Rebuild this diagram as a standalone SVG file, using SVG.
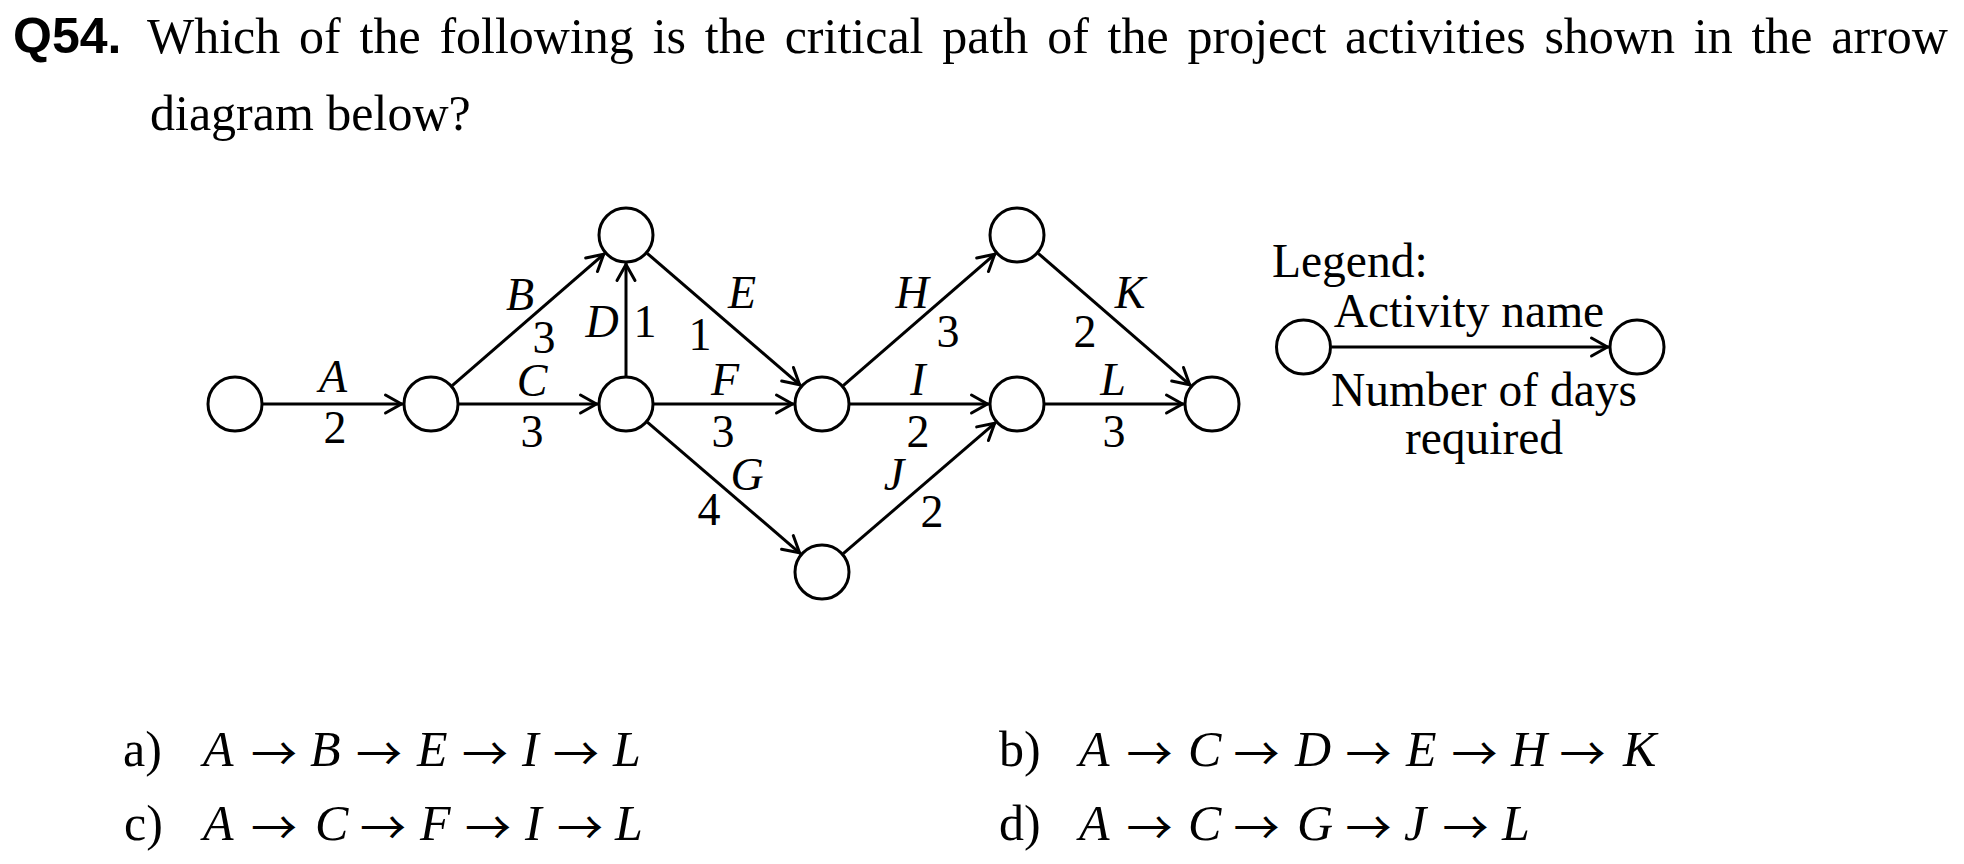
<svg xmlns="http://www.w3.org/2000/svg" width="1964" height="864" viewBox="0 0 1964 864">
<style>
.t{font-family:"Liberation Serif","Times New Roman",serif;fill:#000}
.it{font-style:italic}
.lbl{font-size:46px;text-anchor:middle}
.nd{fill:#fff;stroke:#000;stroke-width:3}
.ed{stroke:#000;stroke-width:3;fill:none;marker-end:url(#arr)}
.ar{font-family:"Noto Sans CJK JP","Noto Sans CJK SC",sans-serif;font-size:46px;text-anchor:middle;fill:#000}
</style>
<defs>
<marker id="arr" markerUnits="userSpaceOnUse" viewBox="-22 -12 26 24" refX="0" refY="0" markerWidth="26" markerHeight="24" orient="auto">
<path d="M-17.5,-9 L-1.5,0 L-17.5,9" fill="none" stroke="#000" stroke-width="3" stroke-linejoin="round" stroke-linecap="round"/>
</marker>
</defs>
<rect width="1964" height="864" fill="#fff"/>
<g id="title">
<text x="13" y="53" font-family="Liberation Sans, Arial, sans-serif" font-weight="bold" font-size="50">Q54.</text>
<text class="t" x="147" y="53" font-size="50" word-spacing="6.3">Which of the following is the critical path of the project activities shown in the arrow</text>
<text class="t" x="150" y="130" font-size="50">diagram below?</text>
</g>
<g id="connectors">
<line id="eA" class="ed" x1="263" y1="404" x2="403" y2="404"/>
<line id="eB" class="ed" x1="452.2" y1="385.7" x2="604.8" y2="253.3"/>
<line id="eC" class="ed" x1="459" y1="404" x2="598" y2="404"/>
<line id="eD" class="ed" x1="626" y1="376" x2="626" y2="263"/>
<line id="eE" class="ed" x1="647.2" y1="253.3" x2="800.8" y2="385.7"/>
<line id="eF" class="ed" x1="654" y1="404" x2="794" y2="404"/>
<line id="eG" class="ed" x1="647.3" y1="422.2" x2="800.7" y2="553.8"/>
<line id="eH" class="ed" x1="843.2" y1="385.7" x2="995.8" y2="253.3"/>
<line id="eI" class="ed" x1="850" y1="404" x2="989" y2="404"/>
<line id="eJ" class="ed" x1="843.2" y1="553.7" x2="995.8" y2="422.3"/>
<line id="eK" class="ed" x1="1038.2" y1="253.3" x2="1190.8" y2="385.7"/>
<line id="eL" class="ed" x1="1045" y1="404" x2="1184" y2="404"/>
<line id="eLeg" class="ed" x1="1331.5" y1="347" x2="1609" y2="347"/>
</g>
<g id="edge-labels" class="t lbl">
<text class="it" x="333" y="392">A</text><text x="335" y="443">2</text>
<text class="it" x="520" y="310">B</text><text x="544" y="353">3</text>
<text class="it" x="532" y="396">C</text><text x="532" y="447">3</text>
<text class="it" x="602" y="337">D</text><text x="645" y="337">1</text>
<text class="it" x="742" y="308">E</text><text x="700" y="350">1</text>
<text class="it" x="725" y="395">F</text><text x="723" y="447">3</text>
<text class="it" x="747" y="490">G</text><text x="709" y="525">4</text>
<text class="it" x="912" y="308">H</text><text x="948" y="347">3</text>
<text class="it" x="918" y="395">I</text><text x="918" y="447">2</text>
<text class="it" x="894" y="490">J</text><text x="932" y="527">2</text>
<text class="it" x="1130" y="308">K</text><text x="1085" y="347">2</text>
<text class="it" x="1113" y="395">L</text><text x="1114" y="447">3</text>
</g>
<g id="n1"><circle class="nd" cx="235" cy="404" r="27"/></g>
<g id="n2"><circle class="nd" cx="431" cy="404" r="27"/></g>
<g id="n3"><circle class="nd" cx="626" cy="235" r="27"/></g>
<g id="n4"><circle class="nd" cx="626" cy="404" r="27"/></g>
<g id="n5"><circle class="nd" cx="822" cy="404" r="27"/></g>
<g id="n6"><circle class="nd" cx="822" cy="572" r="27"/></g>
<g id="n7"><circle class="nd" cx="1017" cy="235" r="27"/></g>
<g id="n8"><circle class="nd" cx="1017" cy="404" r="27"/></g>
<g id="n9"><circle class="nd" cx="1212" cy="404" r="27"/></g>
<g id="legend">
<text class="t" x="1272" y="277" font-size="47.5">Legend:</text>
<circle class="nd" cx="1303.5" cy="347" r="27"/>
<circle class="nd" cx="1637" cy="347" r="27"/>
<text class="t" x="1469" y="327" font-size="47.5" text-anchor="middle">Activity name</text>
<text class="t" x="1484" y="406" font-size="47.5" text-anchor="middle">Number of days</text>
<text class="t" x="1484" y="454" font-size="47.5" text-anchor="middle">required</text>
</g>
<g id="options">
<g class="t" font-size="50">
<text y="766"><tspan x="123">a)</tspan><tspan class="it" x="203">A</tspan><tspan class="it" x="310">B</tspan><tspan class="it" x="417">E</tspan><tspan class="it" x="522">I</tspan><tspan class="it" x="613">L</tspan></text>
<text y="840"><tspan x="124">c)</tspan><tspan class="it" x="203">A</tspan><tspan class="it" x="315">C</tspan><tspan class="it" x="420">F</tspan><tspan class="it" x="525">I</tspan><tspan class="it" x="615">L</tspan></text>
<text y="766"><tspan x="999">b)</tspan><tspan class="it" x="1079">A</tspan><tspan class="it" x="1188">C</tspan><tspan class="it" x="1295">D</tspan><tspan class="it" x="1406">E</tspan><tspan class="it" x="1511">H</tspan><tspan class="it" x="1623">K</tspan></text>
<text y="840"><tspan x="999">d)</tspan><tspan class="it" x="1079">A</tspan><tspan class="it" x="1188">C</tspan><tspan class="it" x="1297">G</tspan><tspan class="it" x="1404">J</tspan><tspan class="it" x="1502">L</tspan></text>
</g>
<g class="ar">
<text x="274" y="770">→</text><text x="379" y="770">→</text><text x="485" y="770">→</text><text x="576" y="770">→</text>
<text x="274" y="844">→</text><text x="383" y="844">→</text><text x="488" y="844">→</text><text x="580" y="844">→</text>
<text x="1149.5" y="770">→</text><text x="1256.5" y="770">→</text><text x="1368.5" y="770">→</text><text x="1474.5" y="770">→</text><text x="1582.5" y="770">→</text>
<text x="1149.5" y="844">→</text><text x="1256.5" y="844">→</text><text x="1368.5" y="844">→</text><text x="1465.5" y="844">→</text>
</g>
</g>
</svg>
